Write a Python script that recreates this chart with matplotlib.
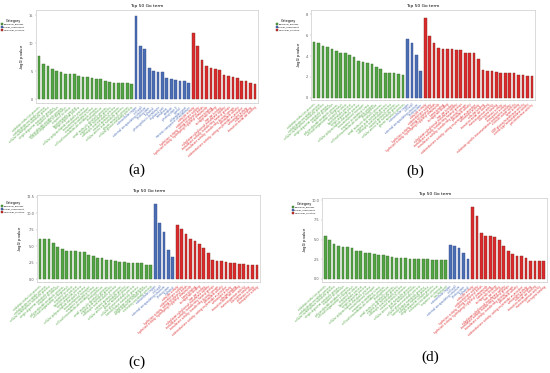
import matplotlib
matplotlib.use("Agg")
import matplotlib.pyplot as plt
from matplotlib.patches import Patch
import numpy as np

# GO term names (reused for every panel, first n of each category)
bp_terms = [
    "oxidation-reduction process", "carbohydrate metabolic process",
    "cellular carbohydrate metabolic process", "single-organism metabolic process",
    "response to stimulus", "polysaccharide metabolic process",
    "cell wall organization or biogenesis", "response to stress",
    "lipid metabolic process", "single-organism process",
    "cellular polysaccharide metabolic process", "transmembrane transport",
    "response to oxidative stress", "cell wall macromolecule metabolic process",
    "photosynthesis", "small molecule metabolic process",
    "organic acid metabolic process", "carboxylic acid metabolic process",
    "oxoacid metabolic process", "cellular amino acid metabolic process",
    "glucan metabolic process", "cellular glucan metabolic process",
    "hemicellulose metabolic process", "xyloglucan metabolic process",
    "single-organism cellular process", "secondary metabolic process",
    "response to chemical", "ion transport",
]
cc_terms = [
    "extracellular region", "cell wall", "external encapsulating structure",
    "photosystem", "thylakoid", "photosynthetic membrane", "thylakoid part",
    "membrane", "apoplast", "photosystem II", "plastid", "chloroplast part",
    "intrinsic component of membrane",
]
mf_terms = [
    "catalytic activity", "oxidoreductase activity",
    "hydrolase activity, acting on glycosyl bonds",
    "hydrolase activity, hydrolyzing O-glycosyl compounds",
    "heme binding", "tetrapyrrole binding", "iron ion binding",
    "xyloglucan:xyloglucosyl transferase activity",
    "transferase activity, transferring hexosyl groups",
    "transferase activity, transferring glycosyl groups",
    "peroxidase activity", "oxidoreductase activity, acting on peroxide as acceptor",
    "antioxidant activity", "cofactor binding", "transition metal ion binding",
    "monooxygenase activity", "coenzyme binding", "chitinase activity",
    "transporter activity", "substrate-specific transmembrane transporter activity",
    "electron carrier activity", "lyase activity",
    "UDP-glucosyltransferase activity", "serine-type endopeptidase activity",
    "pectinesterase activity",
]

# -log10(pvalue)
a_bp = [7.7, 6.3, 5.9, 5.4, 5.1, 4.9, 4.4, 4.4, 4.4, 4.1, 3.95, 3.9, 3.8, 3.5,
        3.5, 3.3, 3.1, 2.9, 2.9, 2.9, 2.8, 2.7]
a_cc = [14.9, 9.5, 9.0, 5.6, 5.0, 4.8, 4.8, 3.8, 3.5, 3.4, 3.3, 3.3, 2.9]
a_mf = [11.8, 9.5, 6.9, 5.9, 5.5, 5.4, 5.2, 4.3, 4.1, 4.0, 3.8, 3.3, 3.2, 2.8, 2.7]

b_bp = [5.3, 5.26, 5.0, 4.9, 4.7, 4.5, 4.3, 4.3, 4.1, 3.9, 3.5, 3.45, 3.35, 3.2,
        3.0, 2.8, 2.4, 2.4, 2.35, 2.3, 2.2]
b_cc = [5.6, 5.26, 4.06, 2.55]
b_mf = [7.6, 5.9, 5.26, 4.8, 4.7, 4.7, 4.68, 4.6, 4.6, 4.26, 4.26, 4.26, 3.74,
        2.7, 2.6, 2.6, 2.5, 2.4, 2.4, 2.4, 2.4, 2.2, 2.2, 2.13, 2.13]

c_bp = [6.05, 6.05, 6.05, 5.45, 4.9, 4.55, 4.25, 4.25, 4.25, 4.1, 4.1, 3.7, 3.5,
        3.3, 3.25, 2.9, 2.9, 2.75, 2.65, 2.6, 2.5, 2.5, 2.45, 2.45, 2.15, 2.1]
c_cc = [11.45, 8.45, 7.1, 4.4, 3.35]
c_mf = [8.2, 7.65, 6.9, 6.05, 5.85, 5.4, 4.7, 4.0, 3.0, 2.7, 2.7, 2.65, 2.45,
        2.45, 2.3, 2.3, 2.2, 2.15, 2.1]

d_bp = [5.43, 4.9, 4.5, 4.2, 4.05, 4.05, 3.9, 3.6, 3.55, 3.35, 3.35, 3.2, 3.1,
        3.05, 2.95, 2.75, 2.7, 2.65, 2.65, 2.55, 2.5, 2.5, 2.5, 2.5, 2.4, 2.4,
        2.4, 2.35]
d_cc = [4.3, 4.2, 3.9, 3.35, 2.5]
d_mf = [9.15, 8.05, 5.8, 5.5, 5.45, 5.35, 4.9, 4.2, 3.55, 3.15, 2.95, 2.9, 2.7,
        2.3, 2.3, 2.3, 2.3]

a_yticks = [0, 5, 10, 15]
b_yticks = [0, 2, 4, 6, 8]
c_yticks = [0.0, 2.5, 5.0, 7.5, 10.0, 12.5]
d_yticks = [0.0, 2.5, 5.0, 7.5, 10.0]

colors = {"bp": "#52a544", "cc": "#4a6db4", "mf": "#dc2a2c"}
edges = {"bp": "#3d6b2a", "cc": "#35508a", "mf": "#7a2a1a"}
W, H = 550, 373


def px_axes(fig, x0, y0, x1, y1):
    return fig.add_axes([x0 / W, 1 - y1 / H, (x1 - x0) / W, (y1 - y0) / H])


def draw_panel(fig, box, bp, cc, mf, yticks, ylim, fmt, leg_xy, letter, letter_xy):
    ax = px_axes(fig, *box)
    vals = bp + cc + mf
    cats = ["bp"] * len(bp) + ["cc"] * len(cc) + ["mf"] * len(mf)
    labels = bp_terms[:len(bp)] + cc_terms[:len(cc)] + mf_terms[:len(mf)]
    x = np.arange(len(vals))
    ax.bar(x, vals, width=0.62, color=[colors[c] for c in cats],
           edgecolor=[edges[c] for c in cats], linewidth=0.3)
    ax.set_xlim(-0.7, len(vals) - 0.3)
    ax.set_ylim(*ylim)
    ax.set_yticks(yticks)
    ax.set_yticklabels([fmt.format(t) for t in yticks], fontsize=2.5, color="#555555")
    ax.set_xticks(x)
    ax.set_xticklabels(labels, rotation=42, ha="right", fontsize=1.9,
                       rotation_mode="anchor")
    for lab, c in zip(ax.get_xticklabels(), cats):
        lab.set_color(colors[c])
    ax.tick_params(length=1, width=0.3, pad=1, color="#999999")
    for s in ax.spines.values():
        s.set_color("#cccccc")
        s.set_linewidth(0.5)
    ax.set_title("Top 50 Go term", fontsize=3.2, pad=2)
    ax.set_ylabel("-log$_{10}$ pvalue", fontsize=2.7, labelpad=2)
    handles = [Patch(facecolor=colors[k], edgecolor=edges[k], linewidth=0.3)
               for k in ["bp", "cc", "mf"]]
    fig.legend(handles, ["biological_process", "cellular_component",
                         "molecular_function"],
               title="Category", loc="upper left",
               bbox_to_anchor=(leg_xy[0] / W, 1 - leg_xy[1] / H),
               fontsize=1.6, title_fontsize=2.4, frameon=False,
               handlelength=0.9, handleheight=1.1, borderpad=0.1,
               labelspacing=0.2, handletextpad=0.3, borderaxespad=0.2)
    fig.text(letter_xy[0] / W, 1 - letter_xy[1] / H, letter, fontsize=11,
             family="Liberation Serif", ha="center", va="center")
    return ax


fig = plt.figure(figsize=(5.5, 3.73), dpi=100)

draw_panel(fig, (36, 10, 258, 103), a_bp, a_cc, a_mf, a_yticks, (-0.7, 15.9),
           "{:g}", (0, 18), "(a)", (137, 170))
draw_panel(fig, (311, 10, 535, 100), b_bp, b_cc, b_mf, b_yticks, (-0.2, 8.4),
           "{:g}", (275, 18), "(b)", (415, 171))
draw_panel(fig, (37, 195, 260, 282), c_bp, c_cc, c_mf, c_yticks, (-0.4, 12.75),
           "{:.1f}", (0, 200), "(c)", (137, 362))
draw_panel(fig, (322, 198, 547, 282), d_bp, d_cc, d_mf, d_yticks, (-0.4, 10.3),
           "{:.1f}", (291, 201), "(d)", (430, 357))

fig.savefig("out.png", dpi=100)
